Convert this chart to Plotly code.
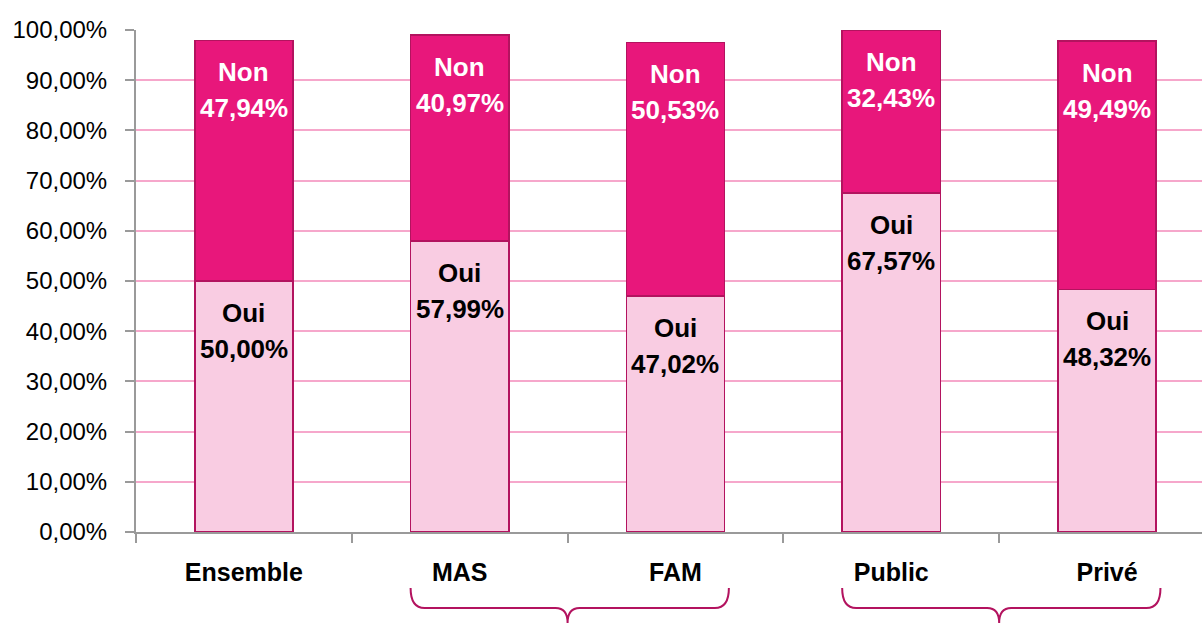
import plotly.graph_objects as go

# ---- data ----
categories = ["Ensemble", "MAS", "FAM", "Public", "Privé"]
oui = [50.00, 57.99, 47.02, 67.57, 48.32]
non = [47.94, 40.97, 50.53, 32.43, 49.49]
y_ticks = [0, 10, 20, 30, 40, 50, 60, 70, 80, 90, 100]
brace_groups = [("MAS", "FAM"), ("Public", "Privé")]

# ---- style ----
OUI_COLOR = "#F9CCE2"
NON_COLOR = "#E8177B"
EDGE = "#B3135F"
GRID = "#F6A7CB"
AXIS = "#9A9A9A"
FONT = "Liberation Sans"
X_MIN, X_MAX = -0.5, 4.44
BAR_W = 0.455


def fr(v):
    return f"{v:.2f}".replace(".", ",") + "%"


fig = go.Figure()
fig.add_bar(x=categories, y=oui, name="Oui",
            marker=dict(color=OUI_COLOR, line=dict(color=EDGE, width=1.5)))
fig.add_bar(x=categories, y=non, name="Non",
            marker=dict(color=NON_COLOR, line=dict(color=EDGE, width=1.5)))

annotations = []
for i, cat in enumerate(categories):
    for top, name, val, col in [(oui[i], "Oui", oui[i], "#000000"),
                                (oui[i] + non[i], "Non", non[i], "#FFFFFF")]:
        annotations.append(dict(x=cat, y=top, xref="x", yref="y", text=f"<b>{name}</b>",
                                showarrow=False, yanchor="middle", yshift=-32,
                                font=dict(family=FONT, size=26, color=col)))
        annotations.append(dict(x=cat, y=top, xref="x", yref="y", text=f"<b>{fr(val)}</b>",
                                showarrow=False, yanchor="middle", yshift=-68,
                                font=dict(family=FONT, size=26, color=col)))

# braces under grouped categories (paper coords derived from category positions)
plot_top, plot_bottom = 30, 532
plot_h = plot_bottom - plot_top
plot_w = 1202 - 136


def px(c):
    return (c - X_MIN) / (X_MAX - X_MIN)


def py(pixel_y):
    return -(pixel_y - plot_bottom) / plot_h


shapes = []
for a, b in brace_groups:
    ia, ib = categories.index(a), categories.index(b)
    x0 = px(ia - BAR_W / 2)
    x1 = px(ib + BAR_W / 2 + 0.02)
    xc = px((ia + ib) / 2)
    r = 14 / plot_w
    r2 = 12 / plot_w
    yt, ym, yb = py(588), py(608), py(623)
    path = (f"M {x0},{yt} Q {x0},{ym} {x0 + r},{ym} L {xc - r2},{ym} "
            f"Q {xc},{ym} {xc},{yb} Q {xc},{ym} {xc + r2},{ym} "
            f"L {x1 - r},{ym} Q {x1},{ym} {x1},{yt}")
    shapes.append(dict(type="path", xref="paper", yref="paper", path=path,
                       line=dict(color=EDGE, width=2)))

fig.update_layout(
    barmode="stack",
    bargap=1 - BAR_W,
    width=1202, height=623,
    margin=dict(l=136, r=0, t=30, b=91, autoexpand=False),
    plot_bgcolor="white", paper_bgcolor="white",
    showlegend=False,
    annotations=annotations,
    shapes=shapes,
    font=dict(family=FONT, color="#000000"),
)
fig.update_xaxes(
    range=[X_MIN, X_MAX],
    automargin=False,
    showline=True, linecolor=AXIS, linewidth=2,
    ticks="outside", tickson="boundaries", ticklen=9, tickcolor=AXIS, tickwidth=2,
    showgrid=False,
    tickfont=dict(family=FONT, size=25, color="#000000"),
    tickvals=categories, ticktext=[f"<b>{c}</b>" for c in categories],
    ticklabelstandoff=17,
)
fig.update_yaxes(
    range=[0, 100],
    automargin=False,
    tickvals=y_ticks, ticktext=[fr(v) for v in y_ticks],
    showline=True, linecolor=AXIS, linewidth=2,
    ticks="outside", ticklen=9, tickcolor=AXIS, tickwidth=2,
    showgrid=True, gridcolor=GRID, gridwidth=1.5,
    zeroline=False,
    tickfont=dict(family=FONT, size=24, color="#000000"),
    ticklabelstandoff=13,
)

fig.write_html("out.html", config={"displayModeBar": False},
               post_script="document.body.style.margin='0';document.body.style.overflow='hidden';")
